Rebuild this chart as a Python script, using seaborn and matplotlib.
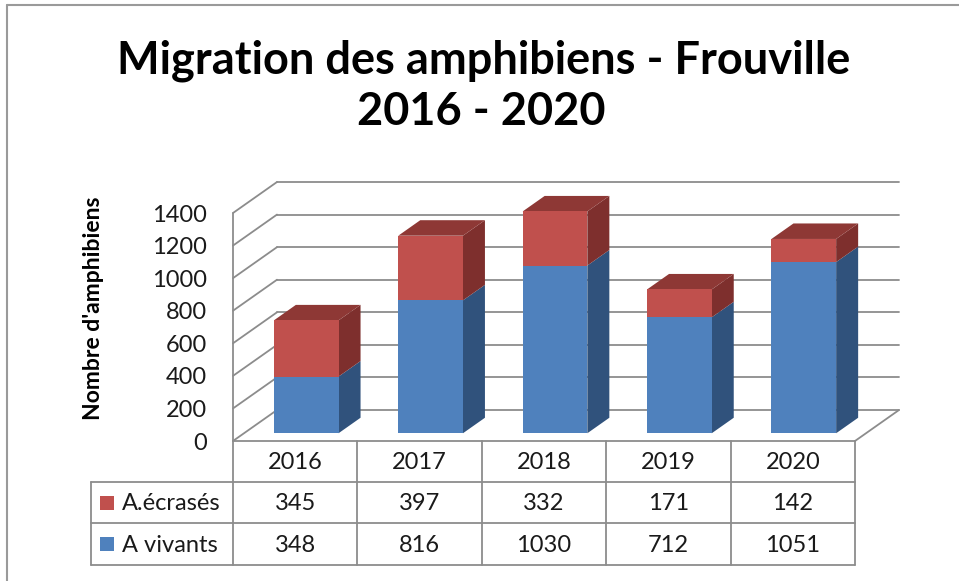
import matplotlib
matplotlib.use("Agg")
import matplotlib.pyplot as plt
import matplotlib.transforms as mtransforms
from matplotlib.patches import Polygon, Rectangle
import seaborn as sns
import pandas as pd

# ---- data ----
years = ["2016", "2017", "2018", "2019", "2020"]
ecrases = [345, 397, 332, 171, 142]
vivants = [348, 816, 1030, 712, 1051]
series_names = ["A.écrasés", "A vivants"]
yticks = [0, 200, 400, 600, 800, 1000, 1200, 1400]
ylabel = "Nombre d'amphibiens"
title_l1 = "Migration des amphibiens - Frouville"
title_l2 = "2016 - 2020"

totals = [a + b for a, b in zip(ecrases, vivants)]
df = pd.DataFrame({"year": years, "vivants": vivants, "total": totals})

sns.set_theme(style="white")
FONT = ["Lato", "DejaVu Sans"]
plt.rcParams["font.family"] = FONT

W, H = 959, 581
fig = plt.figure(figsize=(W / 100, H / 100), dpi=100)

# pixel geometry
PX_COL = 124.4            # px per category
PX_VAL = 228 / 1400       # px per unit
Y0 = 441                  # pixel row of value 0 (front)
X0 = 233                  # pixel col of left front edge
ax_left, ax_right, ax_top, ax_bot = X0, 910, 170, 461
ax = fig.add_axes([ax_left / W, (H - ax_bot) / H, (ax_right - ax_left) / W, (ax_bot - ax_top) / H])

DXd = 44 / PX_COL   # full depth in x data units
DYd = 31 / PX_VAL   # full depth in y data units

blue = "#4F81BD"; blue_side = "#30527C"
red = "#C0504D"; red_side = "#7E2F2D"; red_top = "#8E3835"
grid_c = "#8C8C8C"
ncat = len(years)

# front faces via seaborn
bw = 0.52
sns.barplot(data=df, x="year", y="total", color=red, width=bw, saturation=1, ax=ax, zorder=3)
n_red = len(ax.patches)
sns.barplot(data=df, x="year", y="vivants", color=blue, width=bw, saturation=1, ax=ax, zorder=3)
red_bars = ax.patches[:n_red]
blue_bars = ax.patches[n_red:]

ax.set_xlim(-0.5, -0.5 + (ax_right - ax_left) / PX_COL)
ax.set_ylim(-(ax_bot - Y0) / PX_VAL, (Y0 - ax_top) / PX_VAL)

# back wall + left wall grid
for v in yticks:
    ax.plot([-0.5 + DXd, ncat - 0.5 + DXd], [v + DYd, v + DYd], color=grid_c, lw=1.3, zorder=0, clip_on=False)
    ax.plot([-0.5, -0.5 + DXd], [v, v + DYd], color=grid_c, lw=1.3, zorder=0, clip_on=False)
ax.plot([-0.5, -0.5], [0, yticks[-1]], color=grid_c, lw=1.3, zorder=0, clip_on=False)
ax.plot([-0.5, ncat - 0.5], [0, 0], color=grid_c, lw=1.3, zorder=0, clip_on=False)
ax.plot([ncat - 0.5, ncat - 0.5 + DXd], [0, DYd], color=grid_c, lw=1.3, zorder=0, clip_on=False)

z0, z1 = 0.25, 0.75
ox, oy = z0 * DXd, z0 * DYd
dd_x, dd_y = (z1 - z0) * DXd, (z1 - z0) * DYd
for rb, bb in zip(red_bars, blue_bars):
    for p in (rb, bb):
        p.set_x(p.get_x() + ox)
        p.set_y(p.get_y() + oy)
        p.set_linewidth(0)
    xl = bb.get_x(); xr = xl + bb.get_width()
    yb = bb.get_y(); ym = yb + bb.get_height(); yt = rb.get_y() + rb.get_height()
    for (ya, yb_, c) in ((yb, ym, blue_side), (ym, yt, red_side)):
        ax.add_patch(Polygon([(xr, ya), (xr + dd_x, ya + dd_y), (xr + dd_x, yb_ + dd_y), (xr, yb_)],
                             closed=True, fc=c, ec="none", zorder=2))
    ax.add_patch(Polygon([(xl, yt), (xr, yt), (xr + dd_x, yt + dd_y), (xl + dd_x, yt + dd_y)],
                         closed=True, fc=red_top, ec="none", zorder=2))

# axes styling
for s in ax.spines.values():
    s.set_visible(False)
ax.set_xticks([])
ax.set_xlabel("")
ax.set_ylabel("")
ax.set_yticks(yticks)
ax.set_yticklabels([str(v) for v in yticks])
ax.tick_params(axis="y", length=0, pad=19, labelsize=17, labelcolor="#1a1a1a")
for lab in ax.get_yticklabels():
    lab.set_family(FONT)

# pixel transforms
pix = mtransforms.Affine2D().scale(1 / W, -1 / H).translate(0, 1) + fig.transFigure
xdata_ypix = mtransforms.blended_transform_factory(ax.transData, pix)

# table
x_leg = -0.5 - (X0 - 91) / PX_COL
r0, r1, r2, r3 = Y0, 482, 523, 565
tl = dict(color=grid_c, lw=1.3, transform=xdata_ypix, clip_on=False)
for yy in (r1, r2, r3):
    ax.plot([x_leg, ncat - 0.5], [yy, yy], **tl)
for i in range(ncat + 1):
    ax.plot([i - 0.5, i - 0.5], [r0, r3], **tl)
ax.plot([x_leg, x_leg], [r1, r3], **tl)

tk = dict(transform=xdata_ypix, ha="center", va="center", fontsize=17, color="#1a1a1a", clip_on=False)
for i, (yr, e, v) in enumerate(zip(years, ecrases, vivants)):
    ax.text(i, (r0 + r1) / 2 + 1, yr, **tk)
    ax.text(i, (r1 + r2) / 2 + 1, str(e), **tk)
    ax.text(i, (r2 + r3) / 2 + 1, str(v), **tk)

for name, col, (ya, yb_) in zip(series_names, (red, blue), ((r1, r2), (r2, r3))):
    yc = (ya + yb_) / 2
    fig.add_artist(Rectangle((100, yc - 7), 14, 14, transform=pix, fc=col, ec="none"))
    fig.text(122, yc + 1, name, transform=pix, ha="left", va="center", fontsize=17, color="#1a1a1a")

# ylabel
fig.text(94, 308, ylabel, transform=pix, rotation=90, ha="center", va="center",
         fontsize=16.5, fontweight="bold", color="black")

# title
fig.text(484, 61, title_l1, transform=pix, ha="center", va="center",
         fontsize=32.5, fontweight="bold", color="black")
fig.text(481, 112, title_l2, transform=pix, ha="center", va="center",
         fontsize=32.5, fontweight="bold", color="black")

# outer border (top + left)
fig.add_artist(plt.Line2D([7, W], [5, 5], transform=pix, color="#9a9a9a", lw=1.5))
fig.add_artist(plt.Line2D([7, 7], [5, H], transform=pix, color="#9a9a9a", lw=1.5))

fig.savefig("out.png", dpi=100, facecolor="white")
